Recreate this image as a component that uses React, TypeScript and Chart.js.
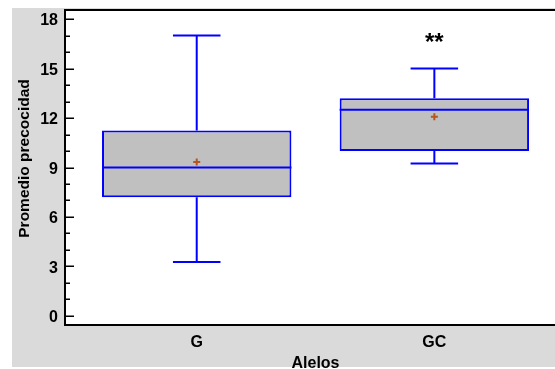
import { useEffect, useRef } from "react";
import { Chart, registerables } from "chart.js";

Chart.register(...registerables);

// ---- data ----
const categories = ["G", "GC"];
const whiskerLow = [3.27, 9.25];
const q1Values = [7.2, 10.0];
const medianValues = [9.0, 12.5];
const q3Values = [11.25, 13.2];
const whiskerHigh = [17.0, 15.0];
const meanValues = [9.33, 12.08];
const significanceLabels = ["", "**"];
const significanceY = [0, 16.5];
const yTickValues = [0, 3, 6, 9, 12, 15, 18];
const yAxisTitle = "Promedio precocidad";
const xAxisTitle = "Alelos";

const FONT = "'Liberation Sans', Arial, Helvetica, sans-serif";
const BLUE = "#0000ff";
const BOX_FILL = "#c0c0c0";
const MEAN_COLOR = "#b4561e";
const PANEL_GRAY = "#dadada";
const CAP_HALF_UNITS = 0.1;

const boxPlugin = {
  id: "boxExtras",
  beforeDraw(chart: any) {
    const { ctx, chartArea, width, height } = chart;
    ctx.save();
    ctx.fillStyle = "#ffffff";
    ctx.fillRect(0, 0, width, height);
    ctx.fillStyle = PANEL_GRAY;
    ctx.fillRect(12, 8, width - 12, height - 10);
    ctx.fillStyle = "#ffffff";
    ctx.fillRect(
      chartArea.left,
      chartArea.top,
      chartArea.right - chartArea.left,
      chartArea.bottom - chartArea.top
    );
    ctx.restore();
  },
  afterDatasetDraw(chart: any, args: any) {
    if (args.index !== 0) return;
    const { ctx } = chart;
    const xs = chart.scales.x;
    const ys = chart.scales.y;
    const meta = chart.getDatasetMeta(0);
    ctx.save();
    ctx.strokeStyle = BLUE;
    ctx.lineWidth = 2;
    categories.forEach((_, i) => {
      const bar = meta.data[i] as any;
      const cx = xs.getPixelForValue(i + 1);
      const half = bar.width / 2;
      const capHalf = xs.getPixelForValue(i + 1 + CAP_HALF_UNITS) - cx;
      const yHigh = ys.getPixelForValue(whiskerHigh[i]);
      const yQ3 = ys.getPixelForValue(q3Values[i]);
      const yQ1 = ys.getPixelForValue(q1Values[i]);
      const yLow = ys.getPixelForValue(whiskerLow[i]);
      const yMed = ys.getPixelForValue(medianValues[i]);
      ctx.beginPath();
      // upper whisker
      ctx.moveTo(cx, yQ3);
      ctx.lineTo(cx, yHigh);
      ctx.moveTo(cx - capHalf, yHigh);
      ctx.lineTo(cx + capHalf, yHigh);
      // lower whisker
      ctx.moveTo(cx, yQ1);
      ctx.lineTo(cx, yLow);
      ctx.moveTo(cx - capHalf, yLow);
      ctx.lineTo(cx + capHalf, yLow);
      // median
      ctx.moveTo(cx - half, yMed);
      ctx.lineTo(cx + half, yMed);
      ctx.stroke();
    });
    ctx.restore();
  },
  afterDraw(chart: any) {
    const { ctx, chartArea } = chart;
    const xs = chart.scales.x;
    const ys = chart.scales.y;
    ctx.save();
    // top frame line
    ctx.strokeStyle = "#000000";
    ctx.lineWidth = 2;
    ctx.beginPath();
    ctx.moveTo(chartArea.left, chartArea.top);
    ctx.lineTo(chartArea.right, chartArea.top);
    ctx.stroke();
    // inward ticks on y axis (major + minor)
    ctx.lineWidth = 1.5;
    ctx.beginPath();
    const first = Math.ceil(ys.min);
    const last = Math.floor(ys.max);
    for (let v = first; v <= last; v++) {
      const y = Math.round(ys.getPixelForValue(v)) + 0.25;
      const len = yTickValues.includes(v) ? 9 : 5;
      ctx.moveTo(chartArea.left, y);
      ctx.lineTo(chartArea.left + len, y);
    }
    ctx.stroke();
    // y title
    ctx.fillStyle = "#000000";
    ctx.font = `bold 15.5px ${FONT}`;
    ctx.textAlign = "center";
    ctx.textBaseline = "middle";
    ctx.translate(25, 158.5);
    ctx.rotate(-Math.PI / 2);
    ctx.fillText(yAxisTitle, 0, 0);
    ctx.setTransform(1, 0, 0, 1, 0, 0);
    // significance marks
    ctx.font = `bold 24px ${FONT}`;
    ctx.textAlign = "center";
    ctx.textBaseline = "middle";
    significanceLabels.forEach((label, i) => {
      if (!label) return;
      ctx.fillText(
        label,
        xs.getPixelForValue(i + 1),
        ys.getPixelForValue(significanceY[i])
      );
    });
    ctx.restore();
  },
};

export default function App() {
  const canvasRef = useRef<HTMLCanvasElement | null>(null);

  useEffect(() => {
    const canvas = canvasRef.current;
    if (!canvas) return;
    const chart = new Chart(canvas, {
      type: "bar",
      data: {
        datasets: [
          {
            type: "bar",
            order: 2,
            data: categories.map((_, i) => ({ x: i + 1, y: [q1Values[i], q3Values[i]] })) as any,
            backgroundColor: BOX_FILL,
            borderColor: BLUE,
            borderWidth: 2,
            borderSkipped: false,
            categoryPercentage: 1,
            barPercentage: 0.797,
          } as any,
          {
            type: "scatter",
            order: 1,
            data: categories.map((_, i) => ({ x: i + 1, y: meanValues[i] })),
            pointStyle: "cross",
            pointRadius: 3.5,
            borderColor: MEAN_COLOR,
            borderWidth: 2,
            backgroundColor: MEAN_COLOR,
          } as any,
        ],
      },
      options: {
        responsive: false,
        animation: false,
        devicePixelRatio: 1,
        events: [],
        layout: { padding: { left: 0, top: 10, right: 14, bottom: 0 } },
        plugins: {
          legend: { display: false },
          tooltip: { enabled: false },
        },
        scales: {
          x: {
            type: "linear",
            offset: false,
            min: 0.4457,
            max: 2.554,
            afterFit: (scale: any) => {
              scale.height = 44;
              scale.paddingLeft = 0;
              scale.paddingRight = 0;
              scale.paddingTop = 0;
              scale.paddingBottom = 0;
            },
            afterBuildTicks: (scale: any) => {
              scale.ticks = categories.map((_, i) => ({ value: i + 1 }));
            },
            grid: { display: false, drawTicks: false, offset: false },
            border: { display: true, color: "#000000", width: 2 },
            ticks: {
              autoSkip: false,
              padding: 8,
              color: "#000000",
              font: { family: FONT, size: 16, weight: "bold" },
              callback: (v: any) => categories[Math.round(Number(v)) - 1] ?? "",
            },
            title: {
              display: true,
              text: xAxisTitle,
              color: "#000000",
              font: { family: FONT, size: 16, weight: "bold" },
              padding: { top: 0, bottom: -4 },
            },
          },
          y: {
            type: "linear",
            min: -0.55,
            max: 18.55,
            afterFit: (scale: any) => {
              scale.width = 65;
              scale.paddingLeft = 0;
              scale.paddingRight = 0;
              scale.paddingTop = 0;
              scale.paddingBottom = 0;
            },
            afterBuildTicks: (scale: any) => {
              scale.ticks = yTickValues.map((v) => ({ value: v }));
            },
            grid: { display: false, drawTicks: false },
            border: { display: true, color: "#000000", width: 2 },
            ticks: {
              padding: 7,
              labelOffset: 2,
              color: "#000000",
              font: { family: FONT, size: 16, weight: "bold" },
            },
          },
        },
      },
      plugins: [boxPlugin],
    });
    return () => chart.destroy();
  }, []);

  return (
    <div
      style={{
        position: "fixed",
        left: 0,
        top: 0,
        width: 555,
        height: 369,
        overflow: "hidden",
        background: "#ffffff",
      }}
    >
      <canvas ref={canvasRef} width={580} height={369} style={{ display: "block" }} />
    </div>
  );
}
